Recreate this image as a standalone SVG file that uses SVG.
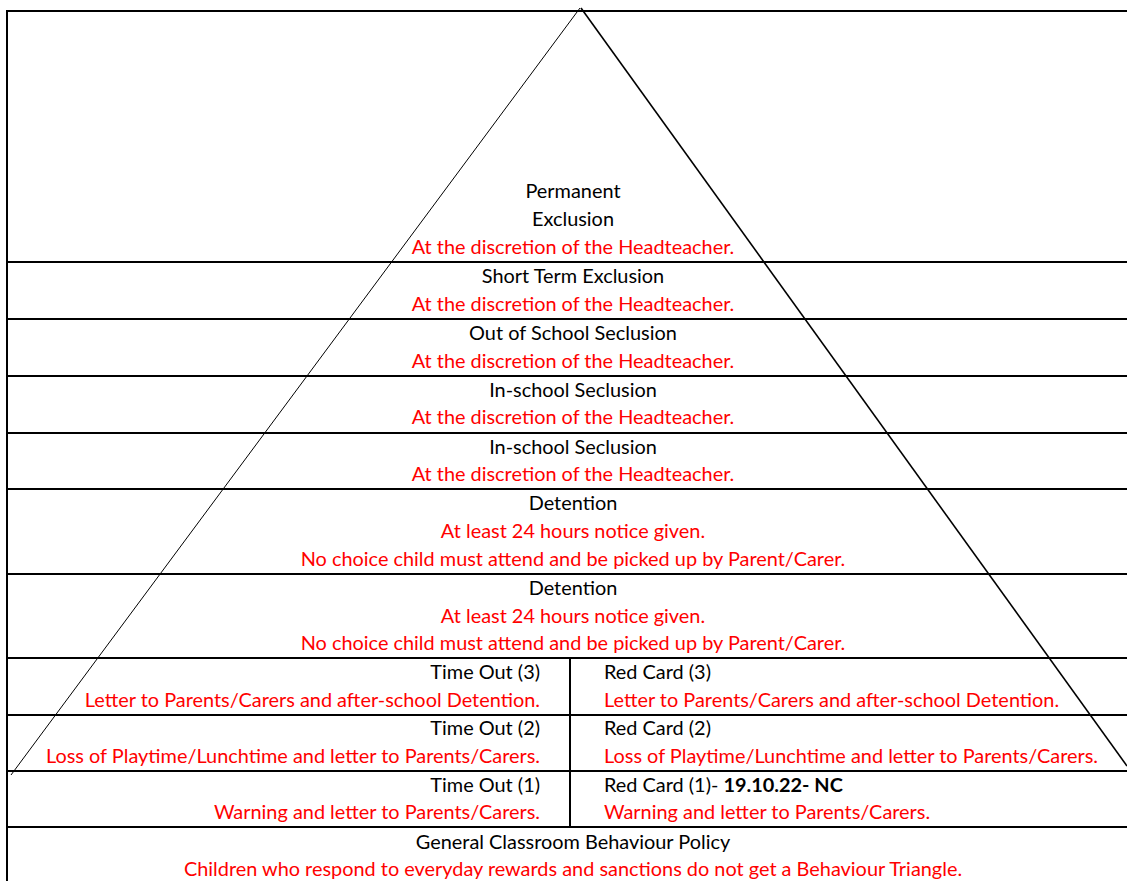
<svg xmlns="http://www.w3.org/2000/svg" width="1127" height="881" viewBox="0 0 1127 881">
<style>
text{font-family:Lato,"Open Sans",sans-serif;font-size:19.9px;fill:#000}
.r{fill:#ff0000}
.c{text-anchor:middle}
.e{text-anchor:end}
.b{font-weight:bold}
.grid line{stroke:#000;stroke-width:2}
</style>
<rect width="1127" height="881" fill="#fff"/>
<g id="grid" class="grid">
<line x1="7" y1="11" x2="1127" y2="11"/>
<line x1="7" y1="10" x2="7" y2="881"/>
<line x1="7" y1="262" x2="1127" y2="262"/>
<line x1="7" y1="319" x2="1127" y2="319"/>
<line x1="7" y1="376" x2="1127" y2="376"/>
<line x1="7" y1="433" x2="1127" y2="433"/>
<line x1="7" y1="489" x2="1127" y2="489"/>
<line x1="7" y1="574" x2="1127" y2="574"/>
<line x1="7" y1="658" x2="1127" y2="658"/>
<line x1="7" y1="715" x2="1127" y2="715"/>
<line x1="7" y1="771" x2="1127" y2="771"/>
<line x1="7" y1="827" x2="1127" y2="827"/>
<line x1="570" y1="658" x2="570" y2="827"/>
</g>
<g id="connectors">
<line x1="580" y1="8" x2="11" y2="775" stroke="#000" stroke-width="1"/>
<line x1="581" y1="8" x2="1127" y2="766" stroke="#000" stroke-width="1.6"/>
</g>
<g id="permanent-exclusion">
<text class="c" x="573" y="198">Permanent</text>
<text class="c" x="573" y="226">Exclusion</text>
<text class="c r" x="573" y="254">At the discretion of the Headteacher.</text>
</g>
<g id="short-term-exclusion">
<text class="c" x="573" y="283">Short Term Exclusion</text>
<text class="c r" x="573" y="311">At the discretion of the Headteacher.</text>
</g>
<g id="out-of-school-seclusion">
<text class="c" x="573" y="340">Out of School Seclusion</text>
<text class="c r" x="573" y="368">At the discretion of the Headteacher.</text>
</g>
<g id="in-school-seclusion-1">
<text class="c" x="573" y="397">In-school Seclusion</text>
<text class="c r" x="573" y="424">At the discretion of the Headteacher.</text>
</g>
<g id="in-school-seclusion-2">
<text class="c" x="573" y="454">In-school Seclusion</text>
<text class="c r" x="573" y="481">At the discretion of the Headteacher.</text>
</g>
<g id="detention-1">
<text class="c" x="573" y="510">Detention</text>
<text class="c r" x="573" y="538">At least 24 hours notice given.</text>
<text class="c r" x="573" y="566">No choice child must attend and be picked up by Parent/Carer.</text>
</g>
<g id="detention-2">
<text class="c" x="573" y="595">Detention</text>
<text class="c r" x="573" y="623">At least 24 hours notice given.</text>
<text class="c r" x="573" y="650">No choice child must attend and be picked up by Parent/Carer.</text>
</g>
<g id="time-out-3">
<text class="e" x="540" y="679">Time Out (3)</text>
<text class="e r" x="540" y="707">Letter to Parents/Carers and after-school Detention.</text>
</g>
<g id="red-card-3">
<text x="604" y="679">Red Card (3)</text>
<text class="r" x="604" y="707">Letter to Parents/Carers and after-school Detention.</text>
</g>
<g id="time-out-2">
<text class="e" x="540" y="735">Time Out (2)</text>
<text class="e r" x="540" y="763">Loss of Playtime/Lunchtime and letter to Parents/Carers.</text>
</g>
<g id="red-card-2">
<text x="604" y="735">Red Card (2)</text>
<text class="r" x="604" y="763">Loss of Playtime/Lunchtime and letter to Parents/Carers.</text>
</g>
<g id="time-out-1">
<text class="e" x="540" y="792">Time Out (1)</text>
<text class="e r" x="540" y="819">Warning and letter to Parents/Carers.</text>
</g>
<g id="red-card-1">
<text x="604" y="792">Red Card (1)- <tspan class="b">19.10.22- NC</tspan></text>
<text class="r" x="604" y="819">Warning and letter to Parents/Carers.</text>
</g>
<g id="general-policy">
<text class="c" x="573" y="849">General Classroom Behaviour Policy</text>
<text class="c r" x="573" y="876">Children who respond to everyday rewards and sanctions do not get a Behaviour Triangle.</text>
</g>
</svg>
